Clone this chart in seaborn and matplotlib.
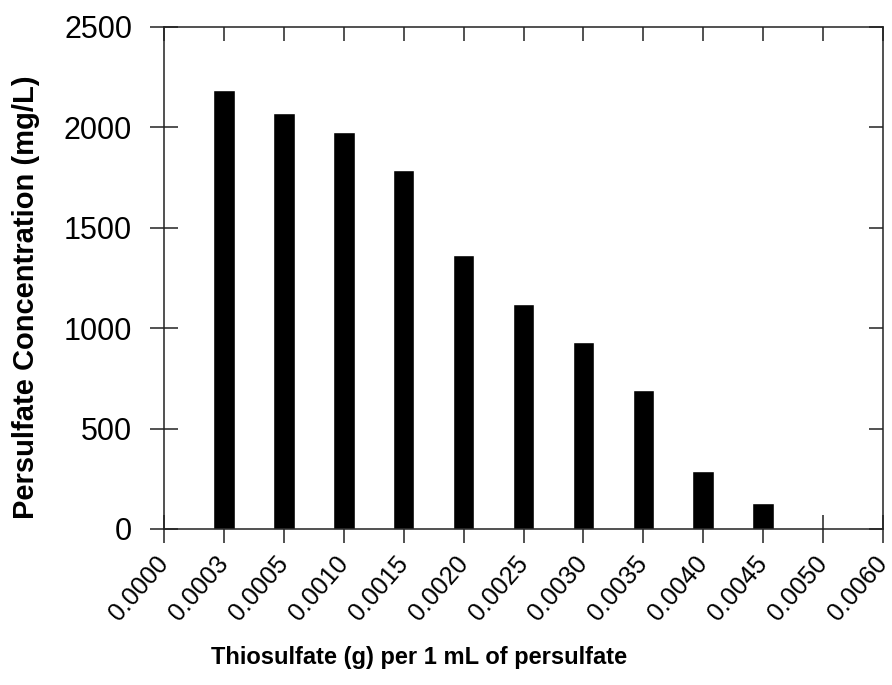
import matplotlib
matplotlib.use('Agg')
import matplotlib.pyplot as plt
import matplotlib.transforms as mtrans
import seaborn as sns
import pandas as pd

# categorias del eje x (todas) y las que tienen barra
categorias = ['0.0000', '0.0003', '0.0005', '0.0010', '0.0015', '0.0020', '0.0025',
              '0.0030', '0.0035', '0.0040', '0.0045', '0.0050', '0.0060']
tiosulfato = ['0.0003', '0.0005', '0.0010', '0.0015', '0.0020', '0.0025',
              '0.0030', '0.0035', '0.0040', '0.0045']
persulfato = [2185, 2073, 1978, 1790, 1366, 1123, 929, 691, 291, 127]
yticks = [0, 500, 1000, 1500, 2000, 2500]

df = pd.DataFrame({'tio': tiosulfato, 'per': persulfato})

sns.set_style('ticks')
plt.rcParams['font.family'] = ['Liberation Sans', 'DejaVu Sans']
plt.rcParams['text.color'] = 'black'
plt.rcParams['axes.labelcolor'] = 'black'

fig = plt.figure(figsize=(8.92, 6.85), dpi=100)
ax = fig.add_axes([164/892, 1 - 529/685, 719/892, 502/685])

sns.barplot(data=df, x='tio', y='per', order=categorias, color='black',
            width=0.36, saturation=1, ax=ax)

ax.set_xlim(0, 12)
ax.set_ylim(0, 2500)
ax.set_yticks(yticks)
ax.set_yticklabels([str(v) for v in yticks], fontsize=22)
ax.set_xticks(range(len(categorias)))
ax.set_xticklabels(categorias, fontsize=18, rotation=49, ha='right',
                   va='center', rotation_mode='anchor')
# corro un poco las etiquetas del eje x
desplazo = mtrans.ScaledTranslation(0.06, -0.03, fig.dpi_scale_trans)
for lab in ax.get_xticklabels():
    lab.set_transform(lab.get_transform() + desplazo)

for s in ax.spines.values():
    s.set_visible(True)
    s.set_color('#222222')
    s.set_linewidth(1.1)

ax.tick_params(axis='y', direction='inout', length=20, width=1.1, color='#222222',
               labelcolor='black', pad=13, right=True)
ax.tick_params(axis='x', direction='inout', length=20, width=1.1, color='#222222',
               labelcolor='black', pad=12, top=True)
# los ticks de arriba y derecha van solo hacia adentro
for t in ax.yaxis.get_major_ticks():
    t.tick2line.set_marker(0)
    t.tick2line.set_markersize(10)
for t in ax.xaxis.get_major_ticks():
    t.tick2line.set_marker(3)
    t.tick2line.set_markersize(10)

ax.set_ylabel('Persulfate Concentration (mg/L)', fontsize=21, fontweight='bold')
ax.yaxis.set_label_coords(-0.1725, 0.462)
ax.set_xlabel('Thiosulfate (g) per 1 mL of persulfate', fontsize=17,
              fontweight='bold')
ax.xaxis.set_label_coords(0.355, -0.233)

fig.savefig('out.png', dpi=100)
